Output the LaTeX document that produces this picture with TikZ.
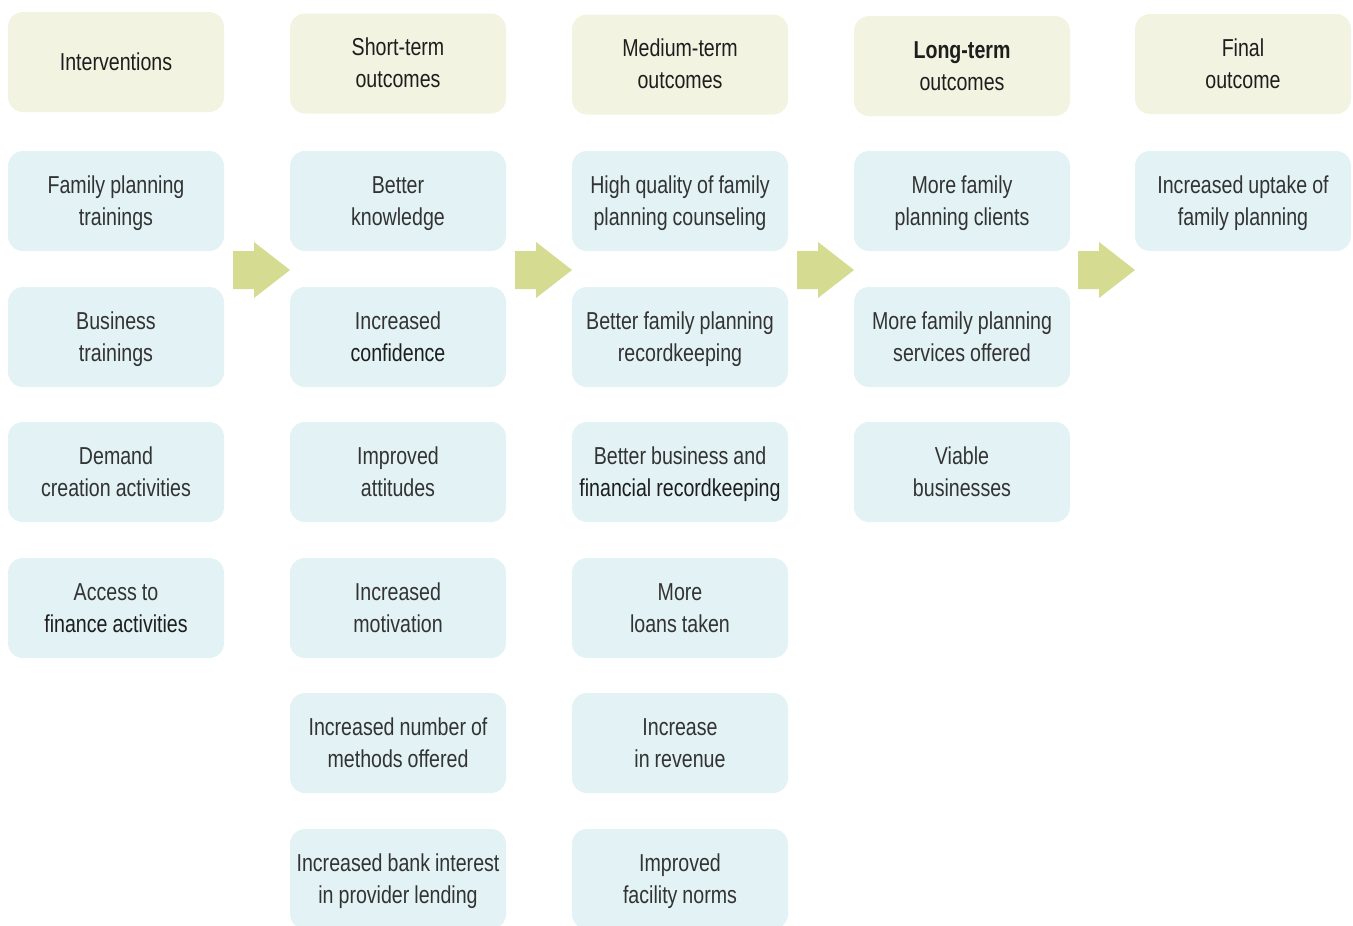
\documentclass[tikz,border=0pt]{standalone}
\usepackage{fontspec}
\setmainfont[FakeStretch=0.8]{Liberation Sans}
\definecolor{hdrfill}{HTML}{F2F4E1}
\definecolor{boxfill}{HTML}{E2F2F5}
\definecolor{arrfill}{HTML}{D5DB91}
\definecolor{bodytxt}{HTML}{333333}
\definecolor{hdrtxt}{HTML}{1E1E1E}
\newcommand{\tightsp}{\spaceskip=5pt\relax\xspaceskip=5pt\relax}
\newcommand{\capstrut}{\rule{0pt}{\fontcharht\font`H}}
\newcommand{\twol}[2]{\tightsp\capstrut\smash{\tightsp#1}\\\smash{\tightsp#2}}
\newcommand{\onel}[1]{\tightsp\capstrut\smash{\tightsp#1}}
\newcommand{\setfont}{\fontsize{24.5}{32}\selectfont}
\begin{document}
\begin{tikzpicture}[x=1pt,y=-1pt,
  base/.style={rounded corners=15pt, minimum width=216pt, minimum height=100pt,
    inner sep=0pt, align=center, text width=214pt,
    font=\setfont},
  hdr/.style={base, fill=hdrfill, text=hdrtxt},
  item/.style={base, fill=boxfill, text=bodytxt}]
\useasboundingbox (0,0) rectangle (1353,926);
\clip (0,0) rectangle (1353,926);
% headers
\node[hdr] (h1) at (116,62) {\onel{Interventions}};
\node[hdr] (h2) at (398,63.5) {\twol{Short-term}{outcomes}};
\node[hdr] (h3) at (680,64.5) {\twol{Medium-term}{outcomes}};
\node[hdr] (h4) at (962,66) {\twol{\bfseries Long-term}{outcomes}};
\node[hdr] (h5) at (1243,64) {\twol{Final}{outcome}};
% column 1
\node[item] (a1) at (116,201) {\twol{Family planning}{trainings}};
\node[item] (a2) at (116,337) {\twol{Business}{trainings}};
\node[item] (a3) at (116,472) {\twol{Demand}{creation activities}};
\node[item] (a4) at (116,608) {\twol{Access to}{\color{hdrtxt}finance activities}};
% column 2
\node[item] (b1) at (398,201) {\twol{Better}{knowledge}};
\node[item] (b2) at (398,337) {\twol{Increased}{\color{hdrtxt}confidence}};
\node[item] (b3) at (398,472) {\twol{Improved}{attitudes}};
\node[item] (b4) at (398,608) {\twol{Increased}{motivation}};
\node[item] (b5) at (398,743) {\twol{Increased number of}{methods offered}};
\node[item] (b6) at (398,879) {\twol{Increased bank interest}{in provider lending}};
% column 3
\node[item] (c1) at (680,201) {\twol{High quality of family}{planning counseling}};
\node[item] (c2) at (680,337) {\twol{Better family planning}{recordkeeping}};
\node[item] (c3) at (680,472) {\twol{Better business and}{\color{hdrtxt}financial recordkeeping}};
\node[item] (c4) at (680,608) {\twol{More}{loans taken}};
\node[item] (c5) at (680,743) {\twol{Increase}{in revenue}};
\node[item] (c6) at (680,879) {\twol{Improved}{facility norms}};
% column 4
\node[item] (d1) at (962,201) {\twol{More family}{planning clients}};
\node[item] (d2) at (962,337) {\twol{More family planning}{services offered}};
\node[item] (d3) at (962,472) {\twol{Viable}{businesses}};
% column 5
\node[item] (e1) at (1243,201) {\twol{Increased uptake of}{family planning}};
% arrows between columns
\foreach \s in {233,515,797,1078}{
  \fill[arrfill] (\s,251) -- (\s+21,251) -- (\s+21,242) -- (\s+57,270)
    -- (\s+21,298) -- (\s+21,289) -- (\s,289) -- cycle;
}
\end{tikzpicture}
\end{document}
